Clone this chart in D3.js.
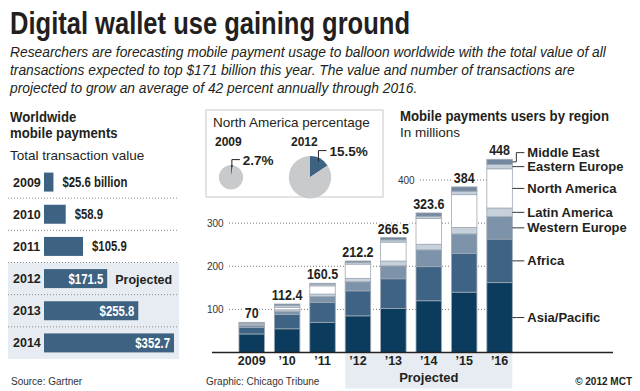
<!DOCTYPE html>
<html>
<head>
<meta charset="utf-8">
<script src="https://cdn.jsdelivr.net/npm/d3@7"></script>
<style>
  html, body { margin: 0; padding: 0; background: #fff; }
  svg { display: block; font-family: "Liberation Sans", Arial, sans-serif; }
  .narrow { font-family: "Liberation Sans", Arial, sans-serif; font-weight: bold; }
  .bold { font-weight: bold; }
</style>
</head>
<body>
<svg id="chart" width="640" height="391"></svg>
<script>
const title = "Digital wallet use gaining ground";
const subtitleLines = [
  "Researchers are forecasting mobile payment usage to balloon worldwide with the total value of all",
  "transactions expected to top $171 billion this year. The value and number of transactions are",
  "projected to grow an average of 42 percent annually through 2016."
];

// worldwide transaction value, billions
const valueYears = ["2009", "2010", "2011", "2012", "2013", "2014"];
const transactionValues = [25.6, 58.9, 105.9, 171.5, 255.8, 352.7];
const valueLabels = ["$25.6 billion", "$58.9", "$105.9", "$171.5", "$255.8", "$352.7"];
const projectedYear = "2012";

// north america share
const pieYears = ["2009", "2012"];
const piePercents = [2.7, 15.5];
const pieLabels = ["2.7%", "15.5%"];
const pieTotals = [70, 212.2];

// users by region, millions
const regionYears = ["2009", "\u201910", "\u201911", "\u201912", "\u201913", "\u201914", "\u201915", "\u201916"];
const regions = ["Asia/Pacific", "Africa", "Western Europe", "Latin America", "North America", "Eastern Europe", "Middle East"];
const asiaPacific   = [43, 55, 70, 85, 102, 120, 140, 162];
const africa        = [15, 33, 46, 58, 69, 79, 90, 101];
const westernEurope = [5, 7, 14, 21, 30, 39, 45, 52];
const latinAmerica  = [2, 4, 5.5, 8, 11, 13, 15, 20];
const northAmerica  = [2, 6, 19, 33, 44, 60, 76, 91];
const easternEurope = [1.5, 4, 4, 4, 5, 5, 8, 10];
const middleEast    = [1.5, 3.4, 2, 3.2, 5.5, 7.6, 10, 12];
const regionTotals  = ["70", "112.4", "160.5", "212.2", "266.5", "323.6", "384", "448"];
const gridTicks = [100, 200, 300, 400];
const projectedRegionYear = "\u201912";

const svg = d3.select("#chart");
const ink = "#231f20";
const steel = "#3d6282";
const paleBlue = "#e6ecf2";

// squeeze bold text to look like a condensed face
function condense(sel, f) {
  sel.each(function() {
    const w = this.getComputedTextLength();
    d3.select(this).attr("textLength", w * f).attr("lengthAdjust", "spacingAndGlyphs");
  });
  return sel;
}

function buildHeader() {
  svg.append("text")
     .attr("class", "narrow")
     .attr("x", 10).attr("y", 34)
     .attr("font-size", 32)
     .attr("fill", ink)
     .attr("textLength", 400)
     .attr("lengthAdjust", "spacingAndGlyphs")
     .text(title);

  svg.selectAll(".sub")
     .data(subtitleLines)
     .enter().append("text")
     .attr("class", "sub")
     .attr("x", 10)
     .attr("y", (d, i) => 57 + i * 18)
     .attr("font-size", 13.8)
     .attr("font-style", "italic")
     .attr("fill", ink)
     .text(d => d);
}

function buildLeftPanel() {
  const g = svg.append("g");

  condense(g.append("text").attr("class", "narrow").attr("x", 10).attr("y", 122)
   .attr("font-size", 15.5).attr("fill", ink).text("Worldwide"), 0.85);
  condense(g.append("text").attr("class", "narrow").attr("x", 10).attr("y", 138)
   .attr("font-size", 15.5).attr("fill", ink).text("mobile payments"), 0.85);
  g.append("text").attr("x", 10).attr("y", 160)
   .attr("font-size", 13.5).attr("fill", ink).text("Total transaction value");

  const y = d3.scaleBand()
              .domain(valueYears)
              .range([166, 359])
              .paddingInner(0.41)
              .paddingOuter(0.205);
  const x = d3.scaleLinear()
              .domain([0, d3.max(transactionValues)])
              .range([44, 174]);
  const gap = (y.step() - y.bandwidth()) / 2;
  const projIndex = valueYears.indexOf(projectedYear);

  g.append("rect")
   .attr("x", 8).attr("width", 171)
   .attr("y", y(projectedYear) - gap)
   .attr("height", 359 - (y(projectedYear) - gap))
   .attr("fill", paleBlue);

  g.selectAll(".sep")
   .data(valueYears.slice(1))
   .enter().append("line")
   .attr("x1", 8).attr("x2", 179)
   .attr("y1", d => y(d) - gap).attr("y2", d => y(d) - gap)
   .attr("stroke", "#8a8a8a")
   .attr("stroke-dasharray", "1,2");

  g.selectAll(".bar")
   .data(transactionValues)
   .enter().append("rect")
   .attr("x", x(0))
   .attr("y", (d, i) => y(valueYears[i]))
   .attr("width", d => x(d) - x(0))
   .attr("height", y.bandwidth())
   .attr("fill", steel);

  g.selectAll(".yr")
   .data(valueYears)
   .enter().append("text")
   .attr("class", "bold")
   .attr("x", 13)
   .attr("y", d => y(d) + y.bandwidth() / 2 + 4.5)
   .attr("font-size", 12.5)
   .attr("fill", ink)
   .text(d => d);

  condense(g.selectAll(".val")
   .data(transactionValues)
   .enter().append("text")
   .attr("class", "narrow")
   .attr("x", (d, i) => i < projIndex ? x(d) + 9 : x(d) - 4)
   .attr("y", (d, i) => y(valueYears[i]) + y.bandwidth() / 2 + 5)
   .attr("text-anchor", (d, i) => i < projIndex ? "start" : "end")
   .attr("font-size", 14)
   .attr("fill", (d, i) => i < projIndex ? ink : "#fff")
   .text((d, i) => valueLabels[i]), 0.81);

  g.append("text")
   .attr("class", "bold")
   .attr("x", x(transactionValues[projIndex]) + 8)
   .attr("y", y(projectedYear) + y.bandwidth() / 2 + 5)
   .attr("font-size", 12.5)
   .attr("fill", ink)
   .text("Projected");

  svg.append("text").attr("x", 11).attr("y", 385)
     .attr("font-size", 10).attr("fill", "#333").text("Source: Gartner");
}

function buildPies() {
  const box = {x: 206, y: 110, w: 177, h: 87};
  const g = svg.append("g");

  g.append("rect")
   .attr("x", box.x).attr("y", box.y).attr("width", box.w).attr("height", box.h)
   .attr("fill", "#fff").attr("stroke", "#c8c8c8");

  g.append("text").attr("x", 213).attr("y", 127)
   .attr("font-size", 13.5).attr("fill", ink).text("North America percentage");

  const cx = d3.scalePoint().domain(pieYears).range([231, 310]);
  const r = d3.scaleSqrt().domain([0, d3.max(pieTotals)]).range([0, 21.2]);
  const cy = 177.3;
  const pie = d3.pie().sort(null);
  const arc = d3.arc().innerRadius(0);

  pieYears.forEach((yr, i) => {
    const rad = r(pieTotals[i]);
    const pg = g.append("g").attr("transform", "translate(" + cx(yr) + "," + cy + ")");
    pg.selectAll("path")
      .data(pie([piePercents[i], 100 - piePercents[i]]))
      .enter().append("path")
      .attr("d", d => arc.outerRadius(rad)(d))
      .attr("fill", (d, j) => j === 0 ? steel : "#c9cacc");

    const slice = pie([piePercents[i], 100 - piePercents[i]])[0];
    const mid = (slice.startAngle + slice.endAngle) / 2;
    const px = Math.sin(mid) * rad * 0.85;
    const py = -Math.cos(mid) * rad * 0.85;
    const lx = rad * 0.85 + 1.5;
    const ly = -rad;
    pg.append("path")
      .attr("d", "M" + px + "," + py + "V" + (ly - 5.5) + "H" + (lx - 3))
      .attr("fill", "none").attr("stroke", ink).attr("stroke-width", 1);
    pg.append("text")
      .attr("class", "bold")
      .attr("x", lx).attr("y", ly)
      .attr("font-size", 13.5)
      .attr("fill", ink)
      .text(pieLabels[i]);
    g.append("text")
     .attr("class", "bold")
     .attr("x", cx(yr) - 16 + i * (-3))
     .attr("y", 146)
     .attr("font-size", 12)
     .attr("fill", ink)
     .text(yr);
  });

  return box;
}

function buildRegionChart(box) {
  const g = svg.append("g");

  condense(g.append("text").attr("class", "narrow").attr("x", 400).attr("y", 121)
   .attr("font-size", 14.5).attr("fill", ink).text("Mobile payments users by region"), 0.91);
  g.append("text").attr("x", 400).attr("y", 137)
   .attr("font-size", 13.5).attr("fill", ink).text("In millions");

  const x = d3.scaleBand()
              .domain(regionYears)
              .range([234, 517.3])
              .paddingInner(0.28)
              .paddingOuter(0.14);
  const y = d3.scaleLinear()
              .domain([0, 400])
              .range([352.5, 180]);
  const z = d3.scaleOrdinal()
              .domain(regions)
              .range(["#0b3c5d", "#3f6384", "#7d93a9", "#c7d1db", "#ffffff", "#c7d1db", "#7489a0"]);

  const columns = [asiaPacific, africa, westernEurope, latinAmerica, northAmerica, easternEurope, middleEast];
  const table = regionYears.map((yr, i) => {
    const row = {year: yr};
    regions.forEach((k, j) => { row[k] = columns[j][i]; });
    return row;
  });
  const series = d3.stack().keys(regions)(table);

  // projected band under axis labels
  g.append("rect")
   .attr("x", x(projectedRegionYear))
   .attr("width", x(regionYears[regionYears.length - 1]) + x.bandwidth() - x(projectedRegionYear))
   .attr("y", y(0) + 1).attr("height", 35)
   .attr("fill", paleBlue);

  // grid
  const grid = g.selectAll(".grid")
                .data(gridTicks)
                .enter().append("g");
  grid.each(function(t) {
    const inBox = y(t) < box.y + box.h;
    const lx = inBox ? box.x + box.w + 15 : 207;
    const sel = d3.select(this);
    sel.append("line")
       .attr("x1", lx + 22).attr("x2", 512)
       .attr("y1", y(t)).attr("y2", y(t))
       .attr("stroke", "#777").attr("stroke-dasharray", "1,2");
    sel.append("text")
       .attr("x", lx).attr("y", y(t) + 3.5)
       .attr("font-size", 10).attr("fill", "#333")
       .text(t);
  });

  g.selectAll(".serie")
   .data(series)
   .enter().append("g")
   .attr("fill", d => z(d.key))
   .selectAll("rect")
   .data(d => d)
   .enter().append("rect")
   .attr("x", d => x(d.data.year))
   .attr("y", d => y(d[1]))
   .attr("height", d => y(d[0]) - y(d[1]))
   .attr("width", x.bandwidth())
   .attr("stroke", "#9ea9b4")
   .attr("stroke-width", 0.8);

  condense(g.selectAll(".total")
   .data(regionYears)
   .enter().append("text")
   .attr("class", "narrow")
   .attr("x", d => x(d) + x.bandwidth() / 2)
   .attr("y", (d, i) => y(series[series.length - 1][i][1]) - 4)
   .attr("text-anchor", "middle")
   .attr("font-size", 14.5)
   .attr("fill", ink)
   .attr("stroke", "#fff").attr("stroke-width", 3).attr("paint-order", "stroke")
   .text((d, i) => regionTotals[i]), 0.86);

  g.append("line")
   .attr("x1", 212).attr("x2", 613)
   .attr("y1", y(0)).attr("y2", y(0))
   .attr("stroke", "#222").attr("stroke-width", 1.6);

  g.selectAll(".xl")
   .data(regionYears)
   .enter().append("text")
   .attr("class", "bold")
   .attr("x", d => x(d) + x.bandwidth() / 2)
   .attr("y", 365)
   .attr("text-anchor", "middle")
   .attr("font-size", 12.5)
   .attr("fill", ink)
   .text(d => d);

  g.append("text")
   .attr("class", "bold")
   .attr("x", x(projectedRegionYear) + (x(regionYears[regionYears.length - 1]) + x.bandwidth() - x(projectedRegionYear)) / 2)
   .attr("y", 382)
   .attr("text-anchor", "middle")
   .attr("font-size", 13)
   .attr("fill", ink)
   .text("Projected");

  // legend on the last bar
  const last = regionYears.length - 1;
  const barRight = x(regionYears[last]) + x.bandwidth();
  let prev = Infinity;
  const legend = series.map(s => {
    const mid = y((s[last][0] + s[last][1]) / 2);
    const ly = Math.min(mid, prev - 14);
    prev = ly;
    return {key: s.key, mid: mid, ly: ly};
  });

  const lg = g.selectAll(".legend")
              .data(legend)
              .enter().append("g");
  lg.append("path")
    .attr("d", d => "M" + barRight + "," + d.mid + "H" + (barRight + 4) + "V" + d.ly + "H" + (barRight + 12))
    .attr("fill", "none").attr("stroke", "#333").attr("stroke-width", 1);
  lg.append("text")
    .attr("class", "bold")
    .attr("x", barRight + 15)
    .attr("y", d => d.ly + 4.5)
    .attr("font-size", 13)
    .attr("fill", ink)
    .text(d => d.key);

  svg.append("text").attr("x", 206).attr("y", 385)
     .attr("font-size", 10).attr("fill", "#333").text("Graphic: Chicago Tribune");
  svg.append("text").attr("class", "bold").attr("x", 632).attr("y", 385)
     .attr("text-anchor", "end")
     .attr("font-size", 10).attr("fill", ink).text("\u00a9 2012 MCT");
}

buildHeader();
buildLeftPanel();
const pieBox = buildPies();
buildRegionChart(pieBox);
</script>
</body>
</html>
